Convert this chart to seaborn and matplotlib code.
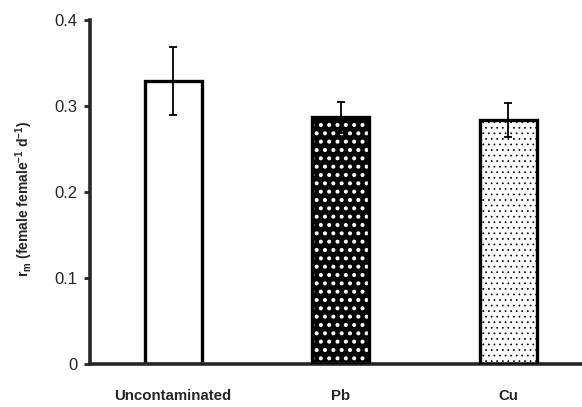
import matplotlib
matplotlib.use("Agg")
import matplotlib.pyplot as plt
import seaborn as sns
import pandas as pd
from matplotlib.patches import Rectangle

# Intrinsic rate of increase per treatment
treatments = ["Uncontaminated", "Pb", "Cu"]
rm_mean = [0.329, 0.287, 0.284]
rm_err = [0.040, 0.018, 0.020]

y_ticks = [0, 0.1, 0.2, 0.3, 0.4]
y_tick_labels = ["0", "0.1", "0.2", "0.3", "0.4"]

sns.set_style("ticks")
plt.rcParams["font.family"] = ["Liberation Sans", "DejaVu Sans"]
plt.rcParams["hatch.linewidth"] = 1.3

df = pd.DataFrame({"treatment": treatments, "rm": rm_mean})

fig = plt.figure(figsize=(5.82, 4.07), dpi=100)
ax = fig.add_axes([0.1546, 0.1057, 0.8454, 0.8452])

sns.barplot(data=df, x="treatment", y="rm", order=treatments, width=0.34,
            color="white", edgecolor="black", linewidth=2.4, ax=ax,
            errorbar=None)

# Fill styles: plain, white dots on black, fine black stipple
styles = [
    dict(face="white", hatch=None, hcol="black", hlw=1.3),
    dict(face="black", hatch="..", hcol="white", hlw=1.7),
    dict(face="white", hatch="...", hcol="black", hlw=0.5),
]
for patch, st in zip(ax.patches, styles):
    patch.set_facecolor(st["face"])
    if st["hatch"]:
        patch.set_hatch(st["hatch"])
        if hasattr(patch, "set_hatch_linewidth"):
            patch.set_hatch_linewidth(st["hlw"])
        patch.set_edgecolor(st["hcol"])
        patch.set_linewidth(0)
        ax.add_patch(Rectangle(patch.get_xy(), patch.get_width(), patch.get_height(),
                               fill=False, edgecolor="black", linewidth=2.4, zorder=3))

ax.errorbar(range(len(treatments)), rm_mean, yerr=rm_err, fmt="none",
            ecolor="black", elinewidth=1.3, capsize=3, capthick=1.3, zorder=4)

ax.set_xlim(-0.496, 2.44)
ax.set_ylim(0, 0.4)
ax.set_yticks(y_ticks)
ax.set_yticklabels(y_tick_labels, fontsize=12,
                   family=["Liberation Sans Narrow", "Liberation Sans", "DejaVu Sans"])
ax.tick_params(axis="y", direction="out", length=4, width=2, pad=5)
ax.tick_params(axis="x", length=0, pad=18)
for lbl in ax.get_xticklabels():
    lbl.set_fontweight("bold")
    lbl.set_fontsize(10.8)

ax.set_xlabel("")
ax.set_ylabel(r"r$_\mathregular{m}$ (female female$^\mathregular{-1}$ d$^\mathregular{-1}$)",
              fontsize=10, fontweight="bold")
ax.yaxis.set_label_coords(-0.112, 0.48)

sns.despine(ax=ax)
ax.spines["left"].set_linewidth(2.6)
ax.spines["bottom"].set_linewidth(2.6)

fig.savefig("out.png", dpi=100)
